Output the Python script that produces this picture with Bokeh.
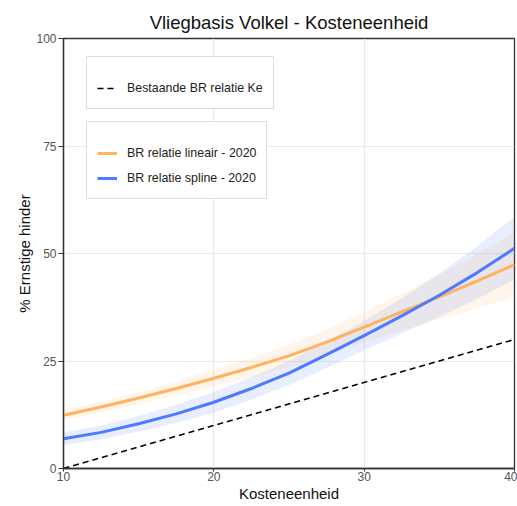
from bokeh.plotting import figure
from bokeh.models import Legend, LegendItem, Title, ColumnDataSource
from bokeh.embed import file_html
from bokeh.resources import INLINE

# Data
x_vals = [10, 12.5, 15, 17.5, 20, 22.5, 25, 27.5, 30, 32.5, 35, 37.5, 40]
lin_mid = [12.4, 14.3, 16.4, 18.6, 21.0, 23.5, 26.2, 29.4, 32.9, 36.4, 39.9, 43.6, 47.4]
lin_half = [1.2, 1.3, 1.4, 1.7, 2.0, 2.3, 2.6, 3.0, 3.5, 4.3, 5.2, 6.3, 7.6]
spl_mid = [6.9, 8.4, 10.4, 12.7, 15.4, 18.6, 22.2, 26.5, 30.9, 35.5, 40.3, 45.5, 51.2]
spl_half = [1.5, 1.6, 1.8, 2.1, 2.4, 2.6, 2.8, 3.1, 3.4, 4.1, 5.0, 6.1, 7.3]
ref_x = [10, 40]
ref_y = [0, 30]

x_ticks = [10, 20, 30, 40]
y_ticks = [0, 25, 50, 75, 100]

title_text = "Vliegbasis Volkel - Kosteneenheid"
x_label = "Kosteneenheid"
y_label = "% Ernstige hinder"
label_ref = "Bestaande BR relatie Ke"
label_lin = "BR relatie lineair - 2020"
label_spl = "BR relatie spline - 2020"

ORANGE = "#FFB35E"
BLUE = "#4C7BFF"
FONT = "Liberation Sans"

src = ColumnDataSource(dict(
    x=x_vals, lm=lin_mid,
    ll=[m - h for m, h in zip(lin_mid, lin_half)],
    lh=[m + h for m, h in zip(lin_mid, lin_half)],
    sm=spl_mid,
    sl=[m - h for m, h in zip(spl_mid, spl_half)],
    sh=[m + h for m, h in zip(spl_mid, spl_half)]))

p = figure(width=517, height=506, output_backend="svg", toolbar_location=None,
           x_range=(10, 40), y_range=(0, 100),
           min_border_left=63, min_border_right=3, min_border_top=38, min_border_bottom=38)

p.add_layout(Title(text=title_text, align="center", text_font=FONT,
                   text_font_size="18.5px", text_font_style="normal",
                   text_color="#111111", offset=0, standoff=11), "above")

p.varea(x="x", y1="ll", y2="lh", source=src, fill_color=ORANGE, fill_alpha=0.13)
p.varea(x="x", y1="sl", y2="sh", source=src, fill_color=BLUE, fill_alpha=0.13)

r_ref = p.line(ref_x, ref_y, line_color="black", line_width=1.6, line_dash="6 4")
r_lin = p.line(x="x", y="lm", source=src, line_color=ORANGE, line_width=3)
r_spl = p.line(x="x", y="sm", source=src, line_color=BLUE, line_width=3)

p.background_fill_color = "white"
p.border_fill_color = "white"
p.outline_line_color = "#333333"
p.outline_line_width = 1.3

for ax in (p.xaxis[0], p.yaxis[0]):
    ax.axis_line_color = "#333333"
    ax.axis_line_width = 1.3
    ax.major_tick_line_color = "#333333"
    ax.major_tick_out = 5
    ax.major_tick_in = 0
    ax.minor_tick_out = 0
    ax.minor_tick_in = 0
    ax.major_label_text_font = FONT
    ax.major_label_text_font_size = "12px"
    ax.major_label_text_color = "#555555"
    ax.axis_label_text_font = FONT
    ax.axis_label_text_font_size = "15px"
    ax.axis_label_text_font_style = "normal"
    ax.axis_label_text_color = "#111111"

p.xaxis.major_tick_out = 3
p.xaxis.major_label_standoff = 0
p.xaxis.axis_label_standoff = 1
p.yaxis.major_label_standoff = 2
p.yaxis.axis_label_standoff = 0

p.xaxis.ticker = x_ticks
p.yaxis.ticker = y_ticks
p.xaxis.axis_label = x_label
p.yaxis.axis_label = y_label

p.xgrid.grid_line_color = "#ebebeb"
p.ygrid.grid_line_color = "#ebebeb"
p.xgrid.grid_line_width = 1.2
p.ygrid.grid_line_width = 1.2


def make_legend(items, loc):
    lg = Legend(items=items, location=loc, title=" ",
                title_text_font_size="9px", title_standoff=1,
                label_text_font=FONT, label_text_font_size="12.4px",
                label_text_color="#222222",
                glyph_width=20, glyph_height=20, label_standoff=10,
                spacing=5, padding=10, margin=0,
                border_line_color="#bbbbbb", border_line_width=1.5,
                background_fill_color="white", background_fill_alpha=1.0)
    return lg


lg1 = make_legend([LegendItem(label=label_ref, renderers=[r_ref])], (23, 359))
lg2 = make_legend([LegendItem(label=label_lin, renderers=[r_lin]),
                   LegendItem(label=label_spl, renderers=[r_spl])], (23, 269))
p.add_layout(lg1, "center")
p.add_layout(lg2, "center")

open("out.html", "w").write(file_html(p, INLINE))
